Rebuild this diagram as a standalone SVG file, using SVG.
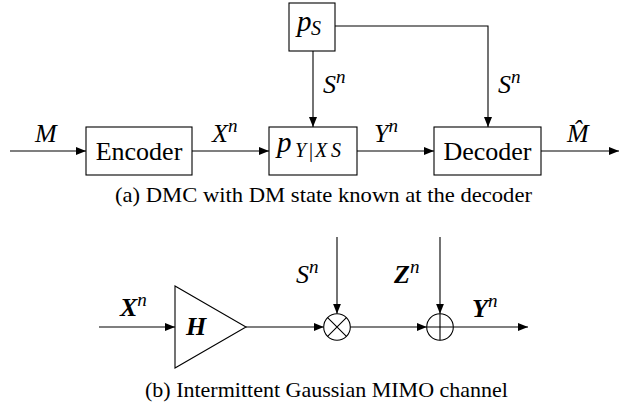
<svg xmlns="http://www.w3.org/2000/svg" width="631" height="407" viewBox="0 0 631 407">
<style>
.box{fill:#fff;stroke:#000;stroke-width:1.1}
.ln{fill:none;stroke:#000;stroke-width:1.1}
text{font-family:'Liberation Serif','Times New Roman',Times,'Nimbus Roman','DejaVu Serif',serif;fill:#000}
.m{font-style:italic}
.b{font-style:italic;font-weight:bold}
</style>
<defs>
<marker id="ah" markerUnits="userSpaceOnUse" markerWidth="10" markerHeight="8" refX="10" refY="4" orient="auto">
<path d="M0,0 L10,4 L0,8 Z" fill="#000"/>
</marker>
</defs>
<rect width="631" height="407" fill="#fff"/>
<g id="connectors">
<line class="ln" x1="10" y1="151" x2="86" y2="151" marker-end="url(#ah)"/>
<line class="ln" x1="192" y1="151" x2="269" y2="151" marker-end="url(#ah)"/>
<line class="ln" x1="357" y1="151" x2="434" y2="151" marker-end="url(#ah)"/>
<line class="ln" x1="541" y1="151" x2="619" y2="151" marker-end="url(#ah)"/>
<line class="ln" x1="313" y1="51" x2="313" y2="127" marker-end="url(#ah)"/>
<path class="ln" d="M335,26 H488 V127" marker-end="url(#ah)"/>
<line class="ln" x1="99" y1="327" x2="175" y2="327" marker-end="url(#ah)"/>
<line class="ln" x1="246" y1="327" x2="323.7" y2="327" marker-end="url(#ah)"/>
<line class="ln" x1="337" y1="237" x2="337" y2="313.7" marker-end="url(#ah)"/>
<line class="ln" x1="350.3" y1="327" x2="426.7" y2="327" marker-end="url(#ah)"/>
<line class="ln" x1="440" y1="237" x2="440" y2="313.7" marker-end="url(#ah)"/>
<line class="ln" x1="453.3" y1="327" x2="528" y2="327" marker-end="url(#ah)"/>
</g>
<g id="encoder">
<rect class="box" x="86" y="127" width="106" height="48"/>
<text x="139" y="160" font-size="26" text-anchor="middle">Encoder</text>
</g>
<g id="channel">
<rect class="box" x="269" y="127" width="88" height="48"/>
<text class="m" x="277" y="152" font-size="29">p<tspan font-size="20" x="295" y="157">Y</tspan><tspan font-size="20" font-style="normal" x="309" y="157">|</tspan><tspan font-size="20" x="315" y="157">X</tspan><tspan font-size="20" x="331" y="157">S</tspan></text>
</g>
<g id="decoder">
<rect class="box" x="434" y="127" width="107" height="48"/>
<text x="487.5" y="160" font-size="26" text-anchor="middle">Decoder</text>
</g>
<g id="state">
<rect class="box" x="289" y="3" width="46" height="48"/>
<text class="m" x="297" y="31" font-size="29">p<tspan font-size="20" x="311" y="35">S</tspan></text>
</g>
<g id="labels-a">
<text class="m" x="35" y="142" font-size="26">M</text>
<text class="m" x="212" y="142" font-size="26">X<tspan font-size="19" dy="-10">n</tspan></text>
<text class="m" x="323" y="93" font-size="26">S<tspan font-size="19" dy="-10">n</tspan></text>
<text class="m" x="498" y="93" font-size="26">S<tspan font-size="19" dy="-10">n</tspan></text>
<text class="m" x="374" y="142" font-size="26">Y<tspan font-size="19" dy="-10">n</tspan></text>
<text class="m" x="567" y="142" font-size="26">M̂</text>
</g>
<text x="115" y="202" font-size="21" textLength="417" lengthAdjust="spacingAndGlyphs">(a) DMC with DM state known at the decoder</text>
<g id="gain">
<polygon class="box" points="175,286 175,368 246,327"/>
<text class="b" x="186" y="335" font-size="26">H</text>
</g>
<g id="mult">
<circle class="box" cx="337" cy="327" r="13.3"/>
<path class="ln" d="M327.6,317.6 L346.4,336.4 M346.4,317.6 L327.6,336.4"/>
</g>
<g id="adder">
<circle class="box" cx="440" cy="327" r="13.3"/>
<path class="ln" d="M426.7,327 H453.3 M440,313.7 V340.3"/>
</g>
<g id="labels-b">
<text class="b" x="120" y="316" font-size="26">X<tspan font-size="19" font-weight="normal" dy="-10">n</tspan></text>
<text class="m" x="296" y="283" font-size="26">S<tspan font-size="19" dy="-10">n</tspan></text>
<text class="b" x="394" y="283" font-size="26">Z<tspan font-size="19" font-weight="normal" dy="-10">n</tspan></text>
<text class="b" x="472" y="317" font-size="26">Y<tspan font-size="19" font-weight="normal" dy="-10">n</tspan></text>
</g>
<text x="145" y="397" font-size="21" textLength="363" lengthAdjust="spacingAndGlyphs">(b) Intermittent Gaussian MIMO channel</text>
</svg>
